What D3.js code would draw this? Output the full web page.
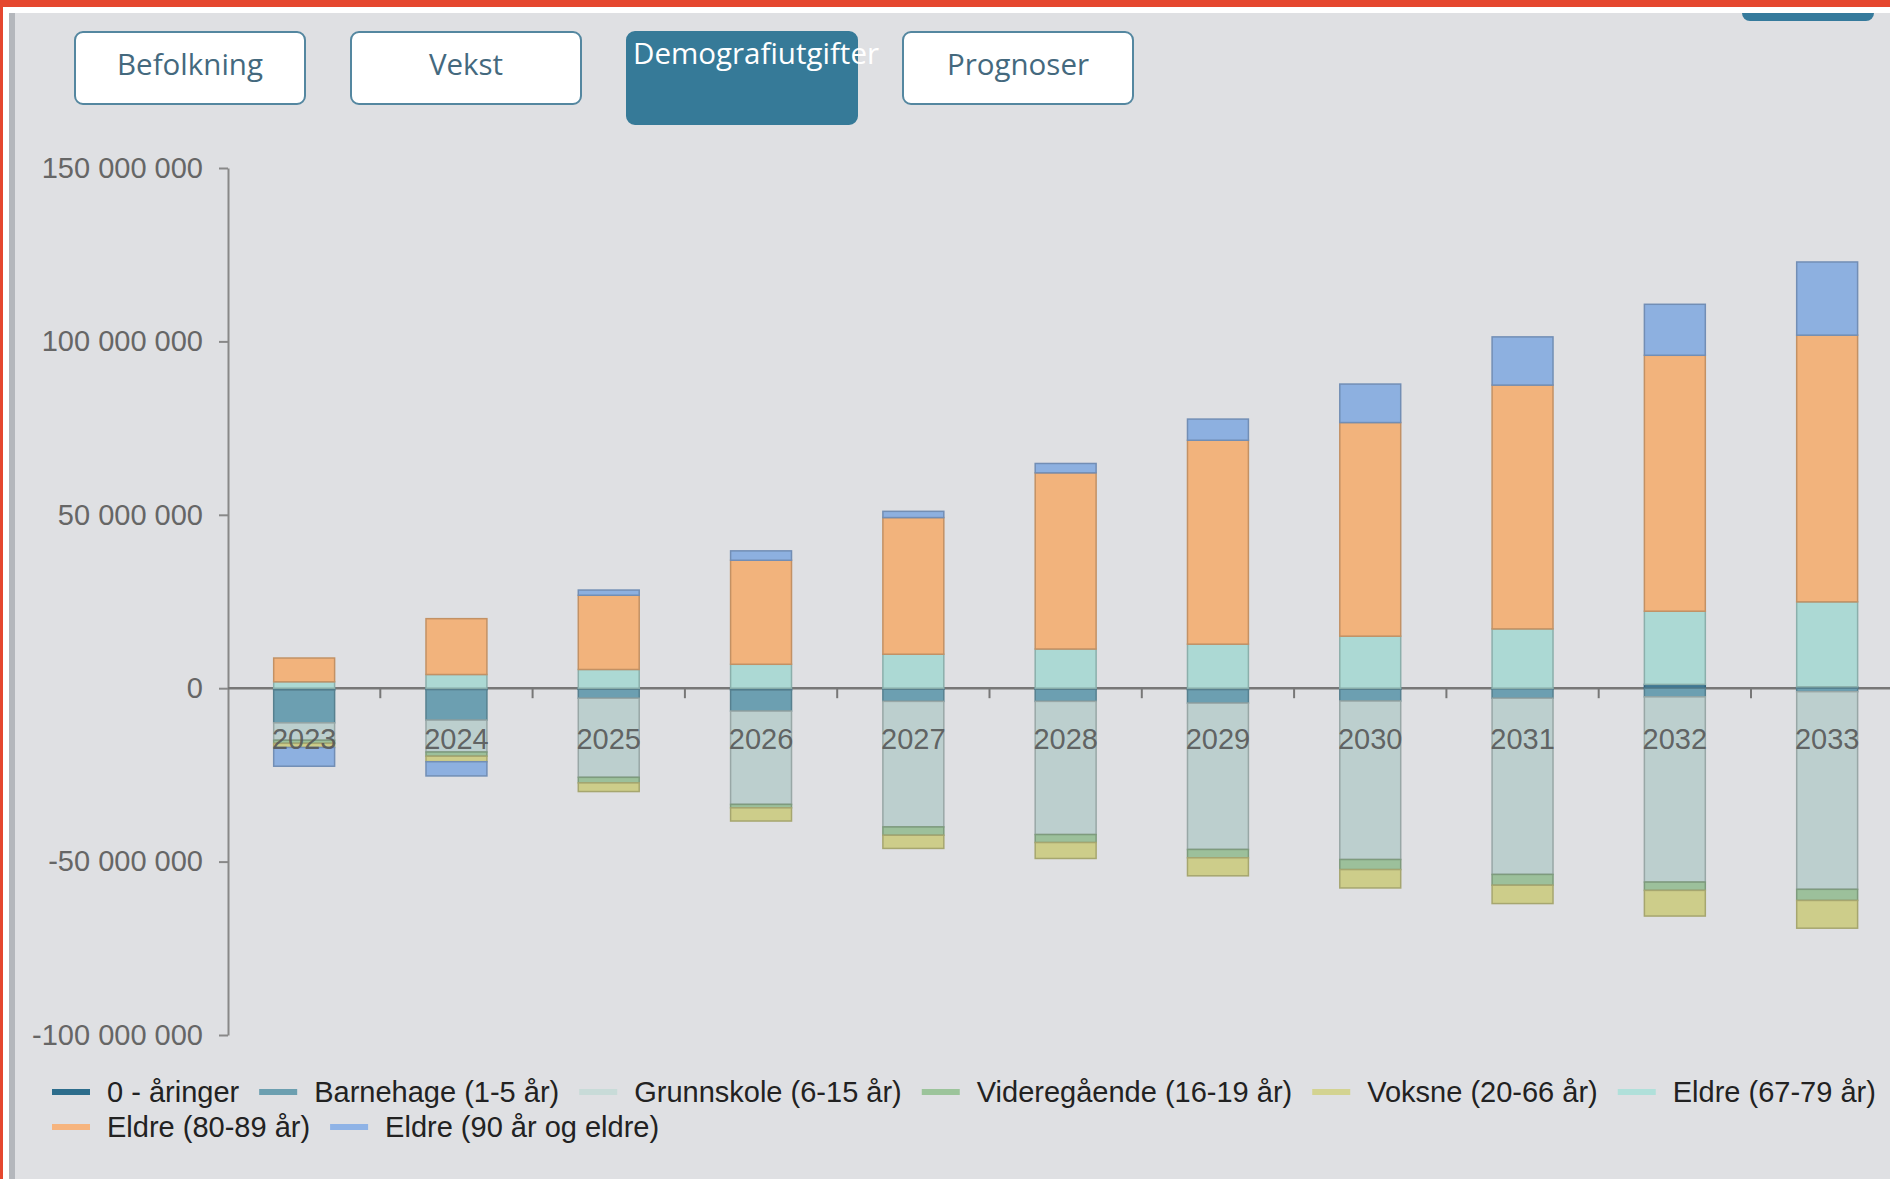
<!DOCTYPE html>
<html>
<head>
<meta charset="utf-8">
<script src="https://cdn.jsdelivr.net/npm/d3@7"></script>
<style>
  html, body { margin: 0; padding: 0; background: #dfe0e3; overflow: hidden; }
  svg { display: block; }
</style>
</head>
<body>
<div id="chart"></div>
<script>
// values in millions NOK
const years = ["2023", "2024", "2025", "2026", "2027", "2028", "2029", "2030", "2031", "2032", "2033"];
const nullAaringer = [-0.5, -0.4, -0.3, -0.5, -0.3, -0.3, -0.4, -0.3, -0.2, 1.1, 0.4];
const barnehage = [-9.5, -8.8, -2.6, -6.1, -3.5, -3.5, -3.9, -3.4, -2.7, -2.5, -1.0];
const grunnskole = [-5.0, -9.2, -22.8, -26.9, -36.2, -38.4, -42.2, -45.7, -50.8, -53.4, -57.0];
const videregaende = [-0.9, -1.2, -1.6, -1.0, -2.4, -2.3, -2.4, -2.9, -3.1, -2.4, -3.2];
const voksne = [-1.2, -1.6, -2.5, -3.8, -3.8, -4.6, -5.2, -5.3, -5.3, -7.4, -8.0];
const eldre6779 = [1.85, 3.95, 5.4, 6.9, 9.8, 11.3, 12.7, 15.0, 17.1, 21.1, 24.5];
const eldre8089 = [6.85, 16.1, 21.4, 30.0, 39.4, 50.8, 58.8, 61.6, 70.3, 73.8, 76.9];
const eldre90 = [-5.4, -4.1, 1.5, 2.7, 1.8, 2.7, 6.1, 11.1, 13.9, 14.7, 21.1];

const seriesNames = ["0 - åringer", "Barnehage (1-5 år)", "Grunnskole (6-15 år)", "Videregående (16-19 år)",
  "Voksne (20-66 år)", "Eldre (67-79 år)", "Eldre (80-89 år)", "Eldre (90 år og eldre)"];
const seriesValues = [nullAaringer, barnehage, grunnskole, videregaende, voksne, eldre6779, eldre8089, eldre90];
const seriesColors = ["#3f7894", "#6c9fb1", "#bccfce", "#9cc09b", "#cdcd8a", "#acd9d4", "#f2b37c", "#8db0e0"];
const legendColors = ["#2d6d8c", "#6c9fb0", "#c8dbd8", "#9cc49b", "#d3d391", "#b0e0da", "#f6b47e", "#8fb3e6"];

const yTicks = [-100, -50, 0, 50, 100, 150];
const tabs = ["Befolkning", "Vekst", "Demografiutgifter", "Prognoser"];
const activeTab = 2;

const W = 1890, H = 1179;
const svg = d3.select("#chart").append("svg")
    .attr("width", W)
    .attr("height", H);

// page frame
svg.append("rect").attr("width", W).attr("height", H).attr("fill", "#dfe0e3");
svg.append("rect").attr("x", 1742).attr("y", 0).attr("width", 132).attr("height", 21)
    .attr("rx", 8).attr("fill", "#357a9c");
svg.append("rect").attr("x", 0).attr("y", 0).attr("width", W).attr("height", 13).attr("fill", "#ffffff");
svg.append("rect").attr("x", 0).attr("y", 0).attr("width", W).attr("height", 7).attr("fill", "#e5472f");
svg.append("rect").attr("x", 0).attr("y", 7).attr("width", 9).attr("height", H).attr("fill", "#ffffff");
svg.append("rect").attr("x", 0).attr("y", 7).attr("width", 3).attr("height", H).attr("fill", "#e5472f");
svg.append("rect").attr("x", 9).attr("y", 13).attr("width", 6).attr("height", H).attr("fill", "#b4b7bc");

// tab buttons
const tab = svg.append("g").selectAll("g")
    .data(tabs)
    .join("g")
    .attr("transform", (d, i) => `translate(${74 + i * 276},31)`);

tab.append("rect")
    .attr("x", 1).attr("y", 1)
    .attr("width", 230)
    .attr("height", (d, i) => i === activeTab ? 92 : 72)
    .attr("rx", 8)
    .attr("fill", (d, i) => i === activeTab ? "#367a98" : "#ffffff")
    .attr("stroke", (d, i) => i === activeTab ? "#367a98" : "#5487a0")
    .attr("stroke-width", 2);

tab.append("text")
    .attr("x", (d, i) => i === activeTab ? 7 : 116)
    .attr("y", (d, i) => i === activeTab ? 33 : 44)
    .attr("text-anchor", (d, i) => i === activeTab ? "start" : "middle")
    .attr("font-family", "'Open Sans', sans-serif")
    .attr("font-size", 29.5)
    .attr("fill", (d, i) => i === activeTab ? "#ffffff" : "#44697e")
    .text(d => d);

// scales
const x = d3.scaleBand()
    .domain(years)
    .range([228, 228 + 11 * 152.3])
    .paddingInner(0.6)
    .paddingOuter(0.3);

const y = d3.scaleLinear()
    .domain([-100, 150])
    .range([1035, 168]);

const nb = d3.formatLocale({ decimal: ",", thousands: " ", grouping: [3], currency: ["", ""], minus: "-" });
const fmt = nb.format(",d");

// y axis
const yAxis = svg.append("g")
    .attr("transform", "translate(228,0)")
    .call(d3.axisLeft(y).tickValues(yTicks).tickSize(9).tickSizeOuter(0).tickPadding(16)
        .tickFormat(d => fmt(d * 1e6)));
yAxis.select(".domain").attr("stroke", "#888").attr("stroke-width", 2);
yAxis.selectAll(".tick line").attr("stroke", "#888").attr("stroke-width", 2);
yAxis.selectAll(".tick text")
    .attr("font-family", "'Liberation Sans', Arial, sans-serif")
    .attr("font-size", 29)
    .attr("fill", "#666");

// zero line with ticks between categories
const zeroY = y(0);
svg.append("line")
    .attr("x1", 228).attr("x2", W)
    .attr("y1", zeroY).attr("y2", zeroY)
    .attr("stroke", "#777").attr("stroke-width", 2.5);
svg.append("g").selectAll("line")
    .data(years.slice(1))
    .join("line")
    .attr("x1", d => x(d) - x.step() * 0.3)
    .attr("x2", d => x(d) - x.step() * 0.3)
    .attr("y1", zeroY).attr("y2", zeroY + 10)
    .attr("stroke", "#777").attr("stroke-width", 2);

// stacked bars
const table = years.map((yr, i) => {
    const row = { year: yr };
    seriesNames.forEach((n, s) => row[n] = seriesValues[s][i]);
    return row;
});

const stack = d3.stack()
    .keys(seriesNames)
    .offset(d3.stackOffsetDiverging)(table);

svg.append("g").selectAll("g")
    .data(stack)
    .join("g")
    .attr("fill", (d, i) => seriesColors[i])
    .attr("stroke", (d, i) => d3.color(seriesColors[i]).darker(0.6))
    .attr("stroke-width", 1.5)
    .selectAll("rect")
    .data(d => d)
    .join("rect")
    .attr("x", d => x(d.data.year))
    .attr("width", x.bandwidth())
    .attr("y", d => y(Math.max(d[0], d[1])))
    .attr("height", d => Math.abs(y(d[0]) - y(d[1])));

// category labels on top of bars
svg.append("g").selectAll("text")
    .data(years)
    .join("text")
    .attr("x", d => x(d) + x.bandwidth() / 2)
    .attr("y", zeroY + 61)
    .attr("text-anchor", "middle")
    .attr("font-family", "'Liberation Sans', Arial, sans-serif")
    .attr("font-size", 29)
    .attr("fill", "#555")
    .attr("fill-opacity", 0.9)
    .text(d => d);

// legend
const legend = svg.append("g");
let lx = 52, row = 0;
const rowY = [1092, 1127];
seriesNames.forEach((name, i) => {
    const t = legend.append("text")
        .attr("font-family", "'Liberation Sans', Arial, sans-serif")
        .attr("font-size", 29)
        .attr("fill", "#222")
        .text(name);
    const w = t.node().getComputedTextLength();
    if (lx + 55 + w > W - 8) { row += 1; lx = 52; }
    legend.append("rect")
        .attr("x", lx).attr("y", rowY[row] - 3)
        .attr("width", 38).attr("height", 6)
        .attr("fill", legendColors[i]);
    t.attr("x", lx + 55).attr("y", rowY[row] + 10);
    lx += 55 + w + 20;
});
</script>
</body>
</html>
